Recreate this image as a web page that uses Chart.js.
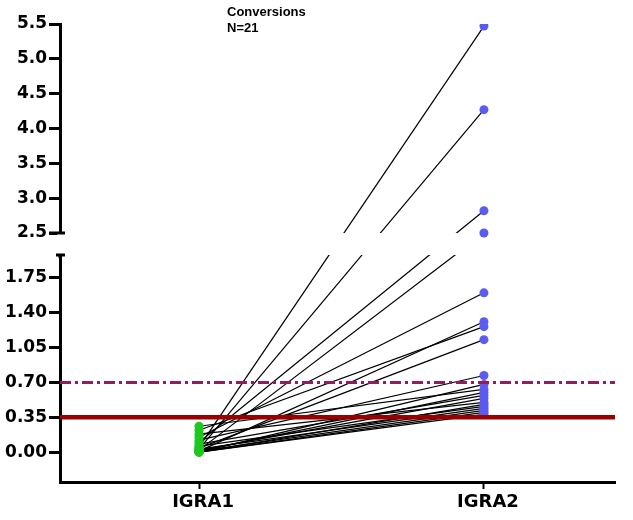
<!DOCTYPE html>
<html>
<head>
<meta charset="utf-8">
<script src="https://cdn.jsdelivr.net/npm/chart.js@4.4.1/dist/chart.umd.min.js"></script>
<style>
  html, body { margin: 0; padding: 0; background: #ffffff; }
  #wrap { position: relative; width: 633px; height: 520px; }
</style>
</head>
<body>
<div id="wrap"><canvas id="c"></canvas></div>
<script>
// ---- data ----
const categories = ['IGRA1', 'IGRA2'];
const igra1 = [0.05, 0.03, 0.10, 0.02, 0.15, 0.01, 0.22, 0.04, 0.12, 0.00, 0.26,
               0.01, 0.08, 0.02, 0.18, 0.00, 0.06, 0.03, 0.01, 0.00, 0.00];
const igra2 = [5.47, 4.27, 2.82, 2.50, 1.60, 1.31, 1.26, 1.13, 0.77, 0.68, 0.63,
               0.60, 0.57, 0.54, 0.50, 0.48, 0.46, 0.44, 0.42, 0.40, 0.38];
const lowerTicks = [0.00, 0.35, 0.70, 1.05, 1.40, 1.75];
const upperTicks = [2.5, 3.0, 3.5, 4.0, 4.5, 5.0, 5.5];
const positiveCutoff = 0.35;
const borderlineCutoff = 0.70;
const titleLines = ['Conversions', 'N=21'];

// ---- broken y axis ----
const SEG = { lowMin: -0.3, lowMax: 1.98, highMin: 2.5, highMax: 5.5, lowW: 227, gapW: 22, highW: 209 };
const X_MIN = -0.488, X_MAX = 1.46;

class BrokenScale extends Chart.LinearScale {
  segPx() {
    const H = this.bottom - this.top, T = SEG.lowW + SEG.gapW + SEG.highW;
    return { lowTop: this.bottom - H * SEG.lowW / T, highBottom: this.top + H * SEG.highW / T };
  }
  getPixelForValue(v) {
    if (v === null || v === undefined || isNaN(v)) return NaN;
    const s = this.segPx();
    if (v <= SEG.lowMax) return this.bottom - (v - SEG.lowMin) / (SEG.lowMax - SEG.lowMin) * (this.bottom - s.lowTop);
    if (v >= SEG.highMin) return s.highBottom - (v - SEG.highMin) / (SEG.highMax - SEG.highMin) * (s.highBottom - this.top);
    return s.lowTop + (v - SEG.lowMax) / (SEG.highMin - SEG.lowMax) * (s.highBottom - s.lowTop);
  }
  getValueForPixel(p) {
    const s = this.segPx();
    if (p >= s.lowTop) return SEG.lowMin + (this.bottom - p) / (this.bottom - s.lowTop) * (SEG.lowMax - SEG.lowMin);
    if (p <= s.highBottom) return SEG.highMin + (s.highBottom - p) / (s.highBottom - this.top) * (SEG.highMax - SEG.highMin);
    return SEG.lowMax + (s.lowTop - p) / (s.lowTop - s.highBottom) * (SEG.highMin - SEG.lowMax);
  }
  buildTicks() {
    return lowerTicks.concat(upperTicks).map(v => ({ value: v }));
  }
}
BrokenScale.id = 'brokenLinear';
BrokenScale.defaults = Chart.LinearScale.defaults;
Chart.register(BrokenScale);

const brokenAxisPlugin = {
  id: 'brokenAxis',
  beforeDatasetDraw(chart, args) {
    const ds = chart.data.datasets[args.index];
    if (!ds.subjectLine) return;
    const s = chart.scales.y.segPx();
    const a = chart.chartArea, ctx = chart.ctx;
    ctx.save();
    ctx.beginPath();
    ctx.rect(a.left - 10, 0, a.right - a.left + 30, s.highBottom);
    ctx.rect(a.left - 10, s.lowTop, a.right - a.left + 30, chart.height - s.lowTop);
    ctx.clip();
  },
  afterDatasetDraw(chart, args) {
    const ds = chart.data.datasets[args.index];
    if (!ds.subjectLine) return;
    chart.ctx.restore();
  },
  afterDraw(chart) {
    const s = chart.scales.y.segPx();
    const ctx = chart.ctx, x = chart.chartArea.left;
    ctx.save();
    ctx.fillStyle = '#ffffff';
    ctx.fillRect(x - 3, s.highBottom, 7, s.lowTop - s.highBottom);
    ctx.strokeStyle = '#000000';
    ctx.lineWidth = 3;
    ctx.beginPath();
    ctx.moveTo(x - 11, s.highBottom); ctx.lineTo(x + 5, s.highBottom);
    ctx.moveTo(x - 4, s.lowTop); ctx.lineTo(x + 5, s.lowTop);
    ctx.moveTo(x, s.lowTop); ctx.lineTo(x, s.lowTop + 3);
    ctx.stroke();
    // title text
    ctx.fillStyle = '#000000';
    ctx.font = 'bold 13px "Liberation Sans", Arial, sans-serif';
    ctx.textBaseline = 'alphabetic';
    ctx.textAlign = 'left';
    titleLines.forEach((t, i) => ctx.fillText(t, 227, 16 + i * 16));
    ctx.restore();
  }
};

// ---- datasets ----
const datasets = [];
igra1.forEach((v, i) => {
  datasets.push({
    subjectLine: true,
    data: [{ x: 0, y: v }, { x: 1, y: igra2[i] }],
    showLine: true, borderColor: '#000000', borderWidth: 1.2,
    pointRadius: 0, order: 4
  });
});
datasets.push({
  data: igra1.map(v => ({ x: 0, y: v })),
  pointRadius: 4.5, pointBackgroundColor: '#1fc81f', pointBorderWidth: 0,
  showLine: false, order: 3
});
datasets.push({
  data: igra2.map(v => ({ x: 1, y: v })),
  pointRadius: 4.5, pointBackgroundColor: '#5b5bf0', pointBorderWidth: 0,
  showLine: false, order: 3
});
datasets.push({
  data: [{ x: X_MIN, y: borderlineCutoff }, { x: X_MAX, y: borderlineCutoff }],
  showLine: true, borderColor: '#8e1f5e', borderWidth: 3, borderDash: [11, 4, 3, 4],
  pointRadius: 0, order: 2
});
datasets.push({
  data: [{ x: X_MIN, y: positiveCutoff }, { x: X_MAX, y: positiveCutoff }],
  showLine: true, borderColor: '#990000', borderWidth: 4.5,
  pointRadius: 0, order: 1
});

new Chart(document.getElementById('c'), {
  type: 'scatter',
  data: { datasets },
  plugins: [brokenAxisPlugin],
  options: {
    responsive: true,
    maintainAspectRatio: false,
    animation: false,
    events: [],
    layout: { padding: { top: 24, right: 18, left: 0, bottom: 0 } },
    plugins: { legend: { display: false }, tooltip: { enabled: false } },
    scales: {
      x: {
        type: 'linear', position: 'bottom', min: X_MIN, max: X_MAX,
        afterBuildTicks: s => { s.ticks = categories.map((c, i) => ({ value: i })); },
        afterFit: s => { s.height = 38; },
        ticks: {
          autoSkip: false, color: '#000000', padding: 3, labelOffset: 4,
          font: { family: '"DejaVu Sans", sans-serif', size: 18, weight: 'bold' },
          callback: v => categories[v]
        },
        grid: { drawOnChartArea: false, drawTicks: true, tickLength: 7, tickWidth: 2, tickColor: '#000000' },
        border: { display: true, width: 3, color: '#000000' }
      },
      y: {
        type: 'brokenLinear', position: 'left', min: SEG.lowMin, max: SEG.highMax,
        afterFit: s => { s.width = 60; },
        ticks: {
          autoSkip: false, color: '#000000', padding: 2,
          font: { family: '"DejaVu Sans", sans-serif', size: 17, weight: 'bold' },
          callback: v => (v < 2.2 ? v.toFixed(2) : v.toFixed(1))
        },
        grid: { drawOnChartArea: false, drawTicks: true, tickLength: 11, tickWidth: 3, tickColor: '#000000' },
        border: { display: true, width: 3, color: '#000000' }
      }
    }
  }
});
</script>
</body>
</html>
